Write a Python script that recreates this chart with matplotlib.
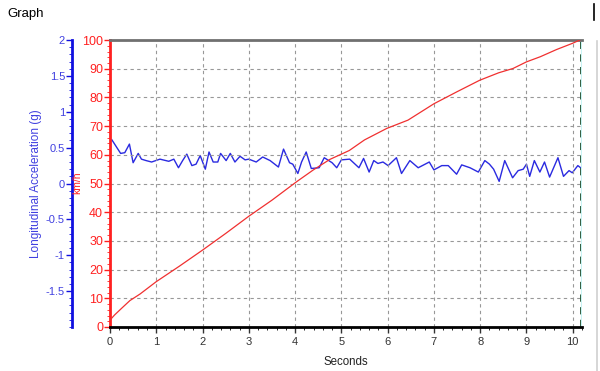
import numpy as np
import matplotlib.pyplot as plt
from matplotlib.ticker import MultipleLocator, FixedLocator
from matplotlib.lines import Line2D

plt.rcParams['font.family'] = ['Liberation Sans', 'DejaVu Sans']

# speed (km/h), red
speed_t = [0, 0.1, 0.25, 0.43, 0.65, 1.0, 1.5, 2.0, 2.5, 3.0, 3.5, 4.03, 4.39, 4.75,
           5.17, 5.5, 5.98, 6.44, 7.0, 7.5, 7.99, 8.4, 8.71, 9.0, 9.3, 9.65, 10.0, 10.15]
speed = [2.4, 4.2, 6.5, 9.2, 11.5, 15.8, 21.2, 26.8, 32.6, 38.6, 44.2, 50.6, 54.7, 58.4,
         61.5, 65.2, 69.2, 72.1, 77.8, 82.0, 86.0, 88.6, 90.1, 92.4, 94.2, 96.7, 98.9, 100.0]

# longitudinal acceleration (g), blue
acc_t = [0.04, 0.23, 0.32, 0.42, 0.5, 0.61, 0.68, 0.78, 0.9, 1.08, 1.27, 1.38, 1.48,
         1.57, 1.66, 1.77, 1.86, 1.95, 2.06, 2.14, 2.23, 2.33, 2.39, 2.51, 2.6, 2.7,
         2.81, 2.92, 3.0, 3.16, 3.3, 3.46, 3.64, 3.75, 3.88, 3.95, 4.06, 4.14, 4.24,
         4.35, 4.52, 4.63, 4.8, 4.9, 5.0, 5.18, 5.38, 5.48, 5.6, 5.7, 5.79, 5.9, 6.01,
         6.19, 6.3, 6.48, 6.66, 6.9, 7.0, 7.17, 7.31, 7.49, 7.6, 7.78, 7.96, 8.1, 8.2,
         8.29, 8.41, 8.53, 8.7, 8.82, 8.93, 9.0, 9.07, 9.17, 9.29, 9.39, 9.5, 9.68,
         9.8, 9.92, 9.99, 10.11, 10.19]
acc = [0.61, 0.42, 0.43, 0.55, 0.29, 0.42, 0.34, 0.32, 0.30, 0.34, 0.31, 0.34, 0.22,
       0.32, 0.41, 0.25, 0.27, 0.39, 0.20, 0.44, 0.30, 0.30, 0.42, 0.32, 0.42, 0.30,
       0.38, 0.33, 0.34, 0.30, 0.37, 0.32, 0.23, 0.48, 0.29, 0.27, 0.14, 0.30, 0.44,
       0.21, 0.22, 0.36, 0.29, 0.22, 0.33, 0.34, 0.22, 0.35, 0.16, 0.32, 0.28, 0.30,
       0.25, 0.36, 0.14, 0.32, 0.22, 0.30, 0.19, 0.25, 0.25, 0.13, 0.26, 0.22, 0.16,
       0.32, 0.27, 0.20, 0.03, 0.32, 0.08, 0.18, 0.20, 0.27, 0.10, 0.32, 0.16, 0.30,
       0.09, 0.36, 0.10, 0.18, 0.15, 0.25, 0.21]

red = '#ff2020'
blue = '#1010e0'

fig = plt.figure(figsize=(6, 3.71), dpi=100)
ax = fig.add_axes([0.1833, 0.1186, 0.7867, 0.7734])
ax2 = ax.twinx()

ax.plot(speed_t, speed, color='#f03030', lw=0.9, zorder=3)
ax2.plot(acc_t, acc, color='#2a2ae0', lw=1.0)

ax.set_xlim(0, 10.2)
ax.set_ylim(0, 100)
ax2.set_ylim(-2, 2)

ax.set_zorder(2)
ax.patch.set_visible(False)
ax2.set_zorder(1)

# grid
ax.xaxis.set_major_locator(MultipleLocator(1))
ax.xaxis.set_minor_locator(MultipleLocator(0.2))
ax.yaxis.set_major_locator(MultipleLocator(10))
ax.yaxis.set_minor_locator(MultipleLocator(2))
ax.grid(True, which='major', color='#989898', ls=(0, (3, 3)), lw=0.8)

# spines
ax.spines['left'].set_color(red)
ax.spines['left'].set_linewidth(2)
ax.spines['bottom'].set_color('black')
ax.spines['bottom'].set_linewidth(2)
ax.spines['top'].set_color('#707070')
ax.spines['top'].set_linewidth(2)
ax.spines['right'].set_visible(False)
for s in ['top', 'bottom', 'right']:
    ax2.spines[s].set_visible(False)

ax.tick_params(axis='y', colors=red, labelsize=9, length=4, width=1, pad=1)
ax.tick_params(axis='y', which='minor', colors=red, length=2)
ax.tick_params(axis='x', labelsize=8, length=4, width=1, colors='#333333')
ax.tick_params(axis='x', which='minor', length=2)

# blue axis on the left, offset
ax2.yaxis.set_ticks_position('left')
ax2.yaxis.set_label_position('left')
ax2.spines['left'].set_visible(True)
ax2.spines['left'].set_position(('outward', 27.4))
ax2.spines['left'].set_color(blue)
ax2.spines['left'].set_linewidth(2)
ax2.yaxis.set_major_locator(FixedLocator([-1.5, -1, -0.5, 0, 0.5, 1, 1.5, 2]))
ax2.yaxis.set_minor_locator(MultipleLocator(0.1))
ax2.tick_params(axis='y', colors=blue, labelcolor='#4040e0', labelsize=8,
                length=4, width=1, pad=1)
ax2.tick_params(axis='y', which='minor', colors=blue, length=2)
ax2.yaxis.set_major_formatter(plt.FuncFormatter(lambda v, p: '%g' % v))
ax2.set_ylabel('Longitudinal Acceleration (g)', color='#4040e0', fontsize=8.5, labelpad=2.5)

ax.set_xlabel('Seconds', fontsize=8.3, color='#222222', labelpad=6)

# km/h label between the axes
fig.text(0.128, 0.507, 'km/h', rotation=90, color=red, fontsize=7.5,
         ha='center', va='center')

# cursor at the right end
ax.axvline(10.17, color='#1a4a2a', ls=(0, (4, 3)), lw=1.3)
ax.axvline(10.2, color='#c8f4f4', lw=1.5)

fig.text(0.013, 0.963, 'Graph', fontsize=9.5, ha='left', va='center')
fig.add_artist(Line2D([0.99, 0.99], [0.945, 0.99], color='black', lw=1.2))
fig.add_artist(Line2D([0.995, 0.995], [0.0, 0.89], color='#d0d0d0', lw=1.2))

fig.savefig('out.png', dpi=100)
